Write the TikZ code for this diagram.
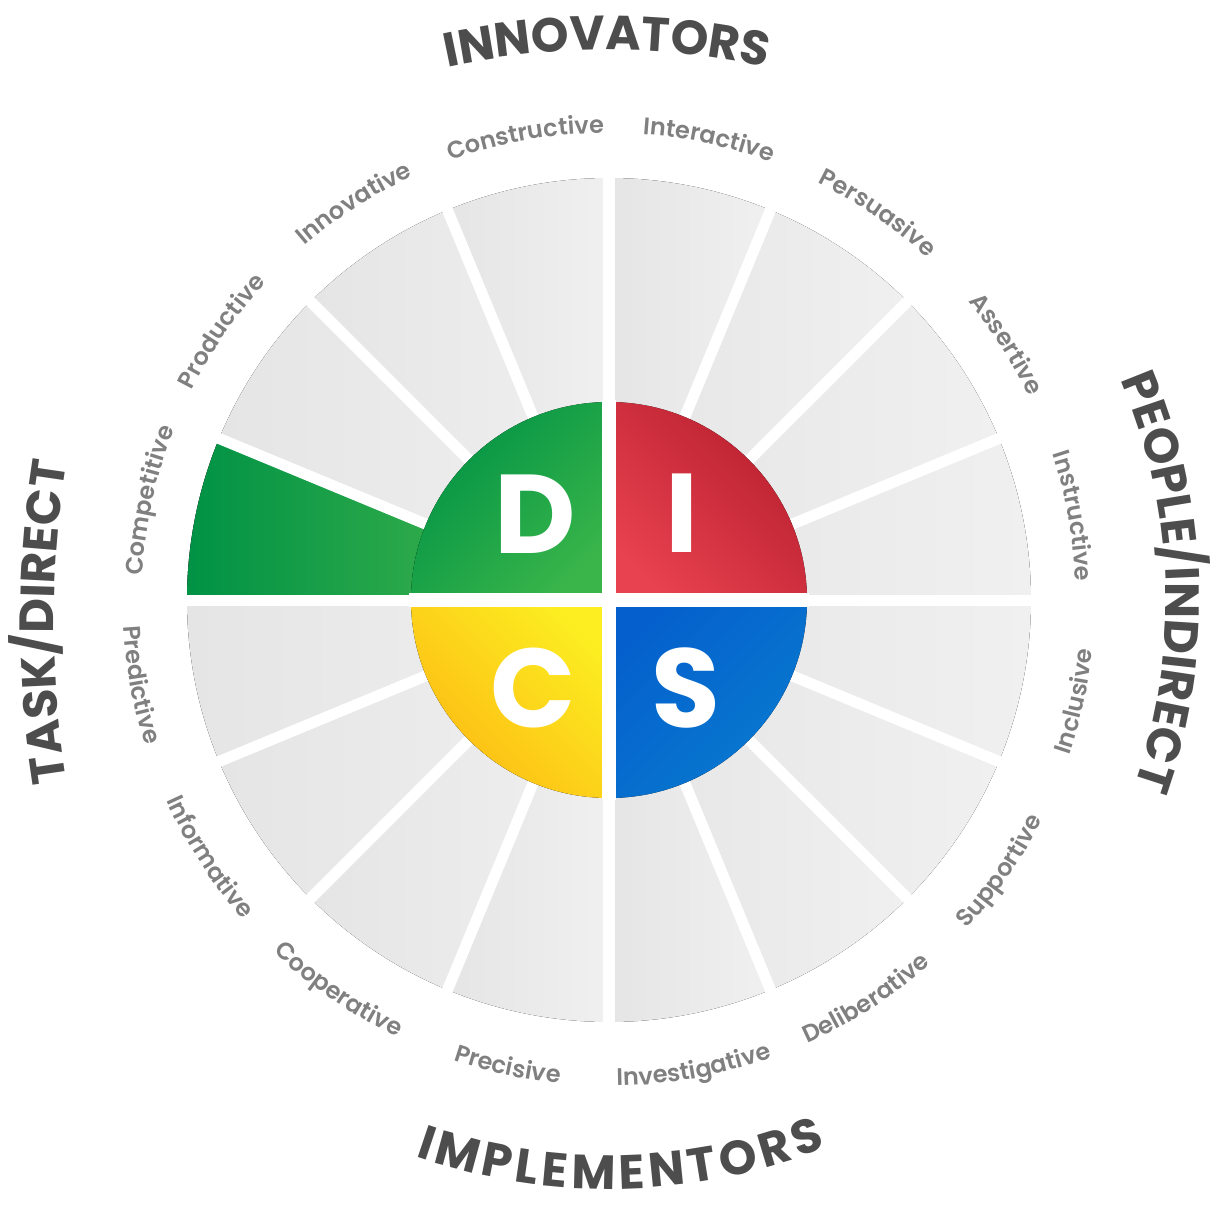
\documentclass[tikz,border=0pt]{standalone}
\usepackage{fontspec}
\setmainfont{Poppins}
\newfontfamily\semifont{Poppins SemiBold}
\usetikzlibrary{decorations.text}

\definecolor{wedgeL}{HTML}{E5E5E5}
\definecolor{wedgeR}{HTML}{F0F0F0}
\definecolor{labelgray}{HTML}{808080}
\definecolor{titlegray}{HTML}{4D4D4D}
\definecolor{dgreenA}{HTML}{009245}
\definecolor{dgreenB}{HTML}{39B54A}
\definecolor{dgreenC}{HTML}{4FBB4E}
\definecolor{iredA}{HTML}{B81F2E}
\definecolor{iredB}{HTML}{E8414F}
\definecolor{sblueA}{HTML}{0560CD}
\definecolor{sblueB}{HTML}{087ACF}
\definecolor{cyelA}{HTML}{FCEE21}
\definecolor{cyelB}{HTML}{FDB913}

\newcommand\lblfont{\fontsize{24}{24}\semifont}
\newcommand\ttlfont{\fontsize{48}{48}\selectfont\bfseries}
\newcommand\gapfont{\fontsize{17}{17}\selectfont}

\tikzset{
	wedge/.style={left color=wedgeL, right color=wedgeR},
	gap/.style={white, line width=11pt},
	letter/.style={text=white, font=\fontsize{112}{112}\selectfont\bfseries},
	lbl/.style={decorate, decoration={text along path, text align=center, text color=labelgray}},
	ttl/.style={decorate, decoration={text along path, text align=center, text color=titlegray}},
}

\begin{document}
\begin{tikzpicture}[x=1pt,y=1pt]
	\useasboundingbox (-609,-605) rectangle (601,600);

	% outer wedges
	\foreach \a in {0,22.5,...,337.5}
		\fill[wedge] (0,0) -- (\a:422) arc[start angle=\a, end angle=\a+22.5, radius=422] -- cycle;
	% competitive
	\fill[left color=dgreenA, right color=dgreenC] (0,0) -- (157.5:422) arc[start angle=157.5, end angle=180, radius=422] -- cycle;

	% gaps
	\foreach \a in {0,22.5,...,337.5}
		\draw[gap] (0,0) -- (\a:440);

	% DISC quadrants
	\fill[top color=dgreenA, bottom color=dgreenB, shading angle=45] (0,0) -- (180:198) arc[start angle=180, end angle=90, radius=198] -- cycle;
	\fill[top color=iredA, bottom color=iredB, shading angle=-45] (0,0) -- (90:198) arc[start angle=90, end angle=0, radius=198] -- cycle;
	\fill[top color=sblueA, bottom color=sblueB, shading angle=45] (0,0) -- (0:198) arc[start angle=0, end angle=-90, radius=198] -- cycle;
	\fill[top color=cyelA, bottom color=cyelB, shading angle=-45] (0,0) -- (-90:198) arc[start angle=-90, end angle=-180, radius=198] -- cycle;
	\draw[gap, line width=14pt] (-200,0) -- (200,0);
	\draw[gap, line width=14pt] (0,-200) -- (0,200);

	\node[letter] (D) at (-74,86) {D};
	\node[letter] (I) at (73,87) {I};
	\node[letter] (S) at (77,-88) {S};
	\node[letter] (C) at (-76,-88) {C};

	% trait labels, upper half
	\foreach \a/\w in {10.25/Instructive, 32.75/Assertive, 55.25/Persuasive, 77.75/Interactive,
			100.25/Constructive, 122.75/Innovative, 145.25/Productive, 167.75/Competitive}
		\path[lbl, decoration={text/.expanded={|\noexpand\lblfont|\w}}]
			(\a+20:467) arc[start angle=\a+20, end angle=\a-20, radius=467];
	% trait labels, lower half
	\foreach \a/\w in {-12.25/Inclusive, -34.75/Supportive, -57.25/Deliberative, -79.75/Investigative,
			-102.25/Precisive, -124.75/Cooperative, -147.25/Informative, -169.75/Predictive}
		\path[lbl, decoration={text/.expanded={|\noexpand\lblfont|\w}}]
			(\a-20:486) arc[start angle=\a-20, end angle=\a+20, radius=486];

	% styles
	\path[ttl, decoration={text={|\ttlfont|INNOVATORS}}]
		(-2,-200) ++(120:750) arc[start angle=120, end angle=60, radius=750];
	\path[ttl, decoration={text={|\ttlfont|PEOPLE/INDIRECT}}]
		(41.9:557) arc[start angle=41.9, end angle=-38.1, radius=557];
	\path[ttl, decoration={text={|\ttlfont|I|\gapfont| |\ttlfont|M|\gapfont| |\ttlfont|P|\gapfont| |\ttlfont|L|\gapfont| |\ttlfont|E|\gapfont| |\ttlfont|M|\gapfont| |\ttlfont|E|\gapfont| |\ttlfont|N|\gapfont| |\ttlfont|T|\gapfont| |\ttlfont|O|\gapfont| |\ttlfont|R|\gapfont| |\ttlfont|S}}]
		(-128.8:589) arc[start angle=-128.8, end angle=-48.8, radius=589];
	\path[ttl, decoration={text={|\ttlfont|TASK/DIRECT}}]
		(445,-22) ++(200:1000) arc[start angle=200, end angle=160, radius=1000];
\end{tikzpicture}
\end{document}
